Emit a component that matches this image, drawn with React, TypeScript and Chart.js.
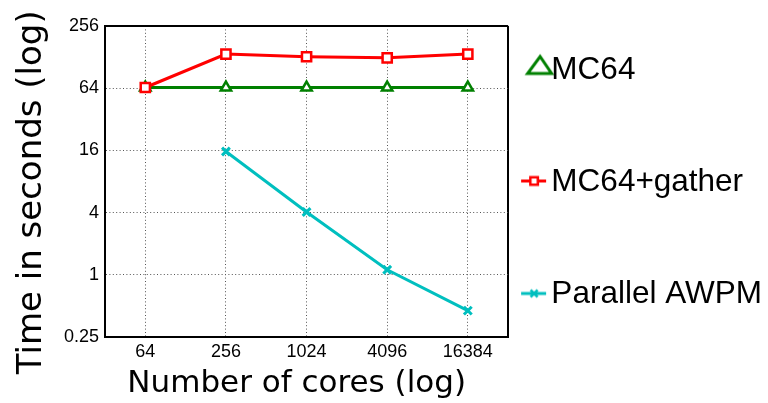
import React, { useEffect, useRef } from 'react';
import { Chart, registerables } from 'chart.js';

Chart.register(...registerables);

const cores = [64, 256, 1024, 4096, 16384];
const xTickValues = [32, 64, 256, 1024, 4096, 16384, 32768];
const xTickLabels = ['', '64', '256', '1024', '4096', '16384', ''];
const yTickValues = [0.25, 1, 4, 16, 64, 256];
const yTickLabels = ['0.25', '1', '4', '16', '64', '256'];
const mc64 = [65, 65, 65, 65, 65];
const mc64Gather = [65, 137, 129, 126, 137];
const parallelAwpm = [null, 15.6, 4.05, 1.12, 0.45];
const seriesNames = ['MC64', 'MC64+gather', 'Parallel AWPM'];
const xTitle = 'Number of cores (log)  ';
const yTitle = 'Time in seconds (log)  ';

const GREEN = '#008000';
const RED = '#ff0000';
const CYAN = '#00bfbf';

function makeIcon(kind: number): HTMLCanvasElement {
  const c = document.createElement('canvas');
  c.width = 40;
  c.height = 40;
  const g = c.getContext('2d')!;
  g.lineJoin = 'miter';
  if (kind === 0) {
    g.strokeStyle = GREEN;
    g.fillStyle = '#fff';
    g.lineWidth = 3;
    g.beginPath();
    g.moveTo(26, 6);
    g.lineTo(37.5, 23);
    g.lineTo(13.5, 23);
    g.closePath();
    g.fill();
    g.stroke();
  } else if (kind === 1) {
    g.strokeStyle = RED;
    g.lineWidth = 3;
    g.beginPath();
    g.moveTo(7, 18.5);
    g.lineTo(32, 18.5);
    g.stroke();
    g.fillStyle = '#fff';
    g.lineWidth = 2.5;
    g.fillRect(16.25, 14.75, 7.5, 7.5);
    g.strokeRect(16.25, 14.75, 7.5, 7.5);
  } else {
    g.strokeStyle = CYAN;
    g.lineWidth = 3;
    g.beginPath();
    g.moveTo(7, 19);
    g.lineTo(32, 19);
    g.stroke();
    g.lineWidth = 2.5;
    g.beginPath();
    g.moveTo(16.5, 15.5);
    g.lineTo(23.5, 22.5);
    g.moveTo(23.5, 15.5);
    g.lineTo(16.5, 22.5);
    g.stroke();
  }
  return c;
}

const edgeX = (v: number) => v === 32 || v === 32768;
const edgeY = (v: number) => v === 0.25 || v === 256;

export default function App() {
  const ref = useRef<HTMLCanvasElement | null>(null);

  useEffect(() => {
    document.body.style.margin = '0';
    const canvas = ref.current;
    if (!canvas) return;
    const icons = [makeIcon(0), makeIcon(1), makeIcon(2)];
    const pts = (arr: (number | null)[]) => cores.map((c, i) => ({ x: c, y: arr[i] }));

    const chart = new Chart(canvas, {
      type: 'line',
      data: {
        datasets: [
          {
            label: seriesNames[0],
            data: pts(mc64),
            borderColor: GREEN,
            backgroundColor: '#fff',
            borderWidth: 3,
            pointStyle: 'triangle',
            pointRadius: 6,
            pointBorderWidth: 2.5,
            pointBackgroundColor: '#fff',
            pointBorderColor: GREEN,
            tension: 0,
            order: 2,
          },
          {
            label: seriesNames[1],
            data: pts(mc64Gather),
            borderColor: RED,
            backgroundColor: '#fff',
            borderWidth: 3,
            pointStyle: 'rect',
            pointRadius: 6.5,
            pointBorderWidth: 2.5,
            pointBackgroundColor: '#fff',
            pointBorderColor: RED,
            tension: 0,
            order: 1,
          },
          {
            label: seriesNames[2],
            data: pts(parallelAwpm),
            borderColor: CYAN,
            backgroundColor: CYAN,
            borderWidth: 3,
            pointStyle: 'crossRot',
            pointRadius: 5.5,
            pointBorderWidth: 3,
            pointBorderColor: CYAN,
            tension: 0,
            order: 0,
          },
        ],
      },
      options: {
        animation: false,
        responsive: false,
        devicePixelRatio: 1,
        layout: { padding: { top: 26, right: -4, left: 0, bottom: 0 } },
        plugins: {
          tooltip: { enabled: false },
          legend: {
            position: 'right',
            align: 'start',
            maxWidth: 400,
            title: { display: true, text: '', padding: 0, font: { size: 4, lineHeight: '4.25px' } },
            labels: {
              usePointStyle: true,
              boxWidth: 3,
              boxHeight: 10,
              padding: 24.5,
              color: '#000',
              font: { family: 'Liberation Sans', size: 31.5, lineHeight: '87.5px' },
              sort: (a: any, b: any) => a.datasetIndex - b.datasetIndex,
              generateLabels: (ch: any) =>
                Chart.defaults.plugins.legend.labels
                  .generateLabels(ch)
                  .map((l: any) => ({ ...l, text: [l.text], pointStyle: icons[l.datasetIndex] })),
            },
          },
        },
        scales: {
          x: {
            type: 'logarithmic',
            position: 'bottom',
            min: 32,
            max: 32768,
            afterBuildTicks: (axis: any) => {
              axis.ticks = xTickValues.map((v) => ({ value: v }));
            },
            afterFit: (axis: any) => {
              axis.height = 66;
            },
            ticks: {
              autoSkip: false,
              maxRotation: 0,
              padding: 4,
              color: '#000',
              font: { family: 'Liberation Sans', size: 18 },
              callback: (_v: any, i: number) => xTickLabels[i],
            },
            grid: {
              drawTicks: false,
              color: (ctx: any) => (ctx.tick && edgeX(ctx.tick.value) ? '#000' : '#555'),
              lineWidth: (ctx: any) => (ctx.tick && edgeX(ctx.tick.value) ? 2 : 1),
            },
            border: {
              display: true,
              color: '#000',
              width: 2,
              dash: (ctx: any) => (ctx.tick && edgeX(ctx.tick.value) ? [] : [1, 2.4]),
            },
            title: {
              display: true,
              text: xTitle,
              color: '#000',
              font: { family: 'DejaVu Sans', size: 31 },
              padding: { top: 0, bottom: 0 },
            },
          },
          y: {
            type: 'logarithmic',
            position: 'left',
            min: 0.25,
            max: 256,
            afterBuildTicks: (axis: any) => {
              axis.ticks = yTickValues.map((v) => ({ value: v }));
            },
            afterFit: (axis: any) => {
              axis.width = 105;
            },
            ticks: {
              autoSkip: false,
              padding: 6,
              color: '#000',
              font: { family: 'Liberation Sans', size: 18 },
              callback: (_v: any, i: number) => yTickLabels[i],
            },
            grid: {
              drawTicks: false,
              color: (ctx: any) => (ctx.tick && edgeY(ctx.tick.value) ? '#000' : '#555'),
              lineWidth: (ctx: any) => (ctx.tick && edgeY(ctx.tick.value) ? 2 : 1),
            },
            border: {
              display: true,
              color: '#000',
              width: 2,
              dash: (ctx: any) => (ctx.tick && edgeY(ctx.tick.value) ? [] : [1, 2.4]),
            },
            title: {
              display: true,
              text: yTitle,
              color: '#000',
              font: { family: 'DejaVu Sans', size: 34 },
              padding: { top: 11.5, bottom: 0 },
            },
          },
        },
      },
    } as any);

    return () => chart.destroy();
  }, []);

  return (
    <div style={{ position: 'absolute', left: 0, top: 0, width: 768, height: 403, background: '#fff' }}>
      <canvas ref={ref} width={768} height={403} style={{ display: 'block', width: 768, height: 403 }} />
    </div>
  );
}
